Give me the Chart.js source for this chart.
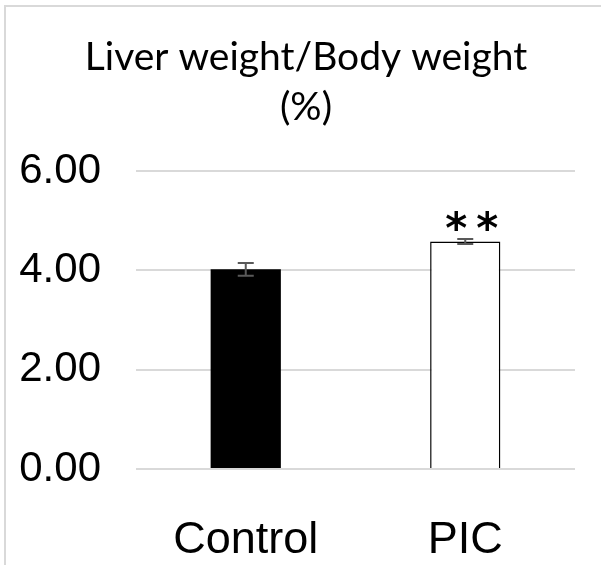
<!DOCTYPE html>
<html>
<head>
<meta charset="utf-8">
<script src="https://cdn.jsdelivr.net/npm/chart.js@4/dist/chart.umd.min.js"></script>
<style>
  html, body { margin: 0; padding: 0; background: #fff; }
  #wrap { position: relative; width: 601px; height: 565px; overflow: hidden; }
  #frame { position: absolute; left: 4px; top: 5px; width: 620px; height: 600px;
           border-top: 2px solid #d9d9d9; border-left: 2px solid #d9d9d9; pointer-events: none; }
  canvas { position: absolute; left: 0; top: 0; }
</style>
</head>
<body>
<div id="wrap">
  <canvas id="c" width="601" height="565"></canvas>
  <div id="frame"></div>
</div>
<script>
// Liver weight relative to body weight, mean ± SE
const groups = ['Control', 'PIC'];
const ratioMeans = [4.02, 4.58];
const ratioErrors = [0.13, 0.05];
const significance = ['', '**'];
const yTicks = [0, 2, 4, 6];
const titleLines = ['Liver weight/Body weight', '(%)'];

const barFills = ['#000000', '#ffffff'];

// Two-line heading, centred a little right of the canvas middle
const headingPlugin = {
  id: 'heading',
  afterDraw(chart) {
    const { ctx } = chart;
    ctx.save();
    ctx.fillStyle = '#000';
    ctx.font = '39px Lato';
    ctx.textAlign = 'center';
    ctx.textBaseline = 'middle';
    titleLines.forEach((t, k) => ctx.fillText(t, 306, 57 + k * 50));
    ctx.restore();
  }
};

// Error bars and significance marks placed through the chart's own scales
const errorBarPlugin = {
  id: 'errorBars',
  afterDatasetsDraw(chart) {
    const { ctx, scales: { y } } = chart;
    const meta = chart.getDatasetMeta(0);
    ctx.save();
    ratioMeans.forEach((m, i) => {
      const cx = meta.data[i].x;
      const yTop = y.getPixelForValue(m + ratioErrors[i]);
      const yBot = y.getPixelForValue(m - ratioErrors[i]);
      ctx.strokeStyle = '#595959';
      ctx.lineWidth = 2;
      ctx.beginPath();
      ctx.moveTo(cx, yTop); ctx.lineTo(cx, yBot);
      ctx.moveTo(cx - 8, yTop); ctx.lineTo(cx + 8, yTop);
      ctx.moveTo(cx - 8, yBot); ctx.lineTo(cx + 8, yBot);
      ctx.stroke();
      if (significance[i]) {
        // each star drawn on its own so the pair keeps its wide spacing
        ctx.fillStyle = '#000';
        ctx.font = 'bold 42px "DejaVu Sans"';
        ctx.textAlign = 'center';
        ctx.textBaseline = 'alphabetic';
        significance[i].split('').forEach((s, k) => {
          ctx.fillText(s, cx - 9 + k * 31, yTop + 4);
        });
      }
    });
    ctx.restore();
  }
};

new Chart(document.getElementById('c'), {
  type: 'bar',
  data: {
    labels: groups,
    datasets: [{
      data: ratioMeans,
      backgroundColor: barFills,
      borderColor: '#000000',
      borderWidth: [0, 1.5],
      categoryPercentage: 1,
      barPercentage: 0.32
    }]
  },
  options: {
    responsive: false,
    animation: false,
    layout: { padding: { left: 20, right: 26, top: 171, bottom: 0 } },
    plugins: {
      legend: { display: false },
      tooltip: { enabled: false },
      title: { display: false }
    },
    scales: {
      x: {
        grid: { display: false, drawTicks: false },
        border: { display: false },
        ticks: { color: '#000', font: { family: 'Liberation Sans', size: 45 }, padding: 45 },
        afterFit(s) { s.height = 96; }
      },
      y: {
        min: 0, max: 6,
        afterBuildTicks(s) { s.ticks = yTicks.map(v => ({ value: v })); },
        grid: { color: '#d9d9d9', lineWidth: 2, drawTicks: false },
        border: { display: false },
        ticks: {
          color: '#000', font: { family: 'Liberation Sans', size: 42 }, padding: 35,
          callback: v => v.toFixed(2)
        },
        afterFit(s) { s.width = 116; }
      }
    }
  },
  plugins: [errorBarPlugin, headingPlugin]
});
</script>
</body>
</html>
